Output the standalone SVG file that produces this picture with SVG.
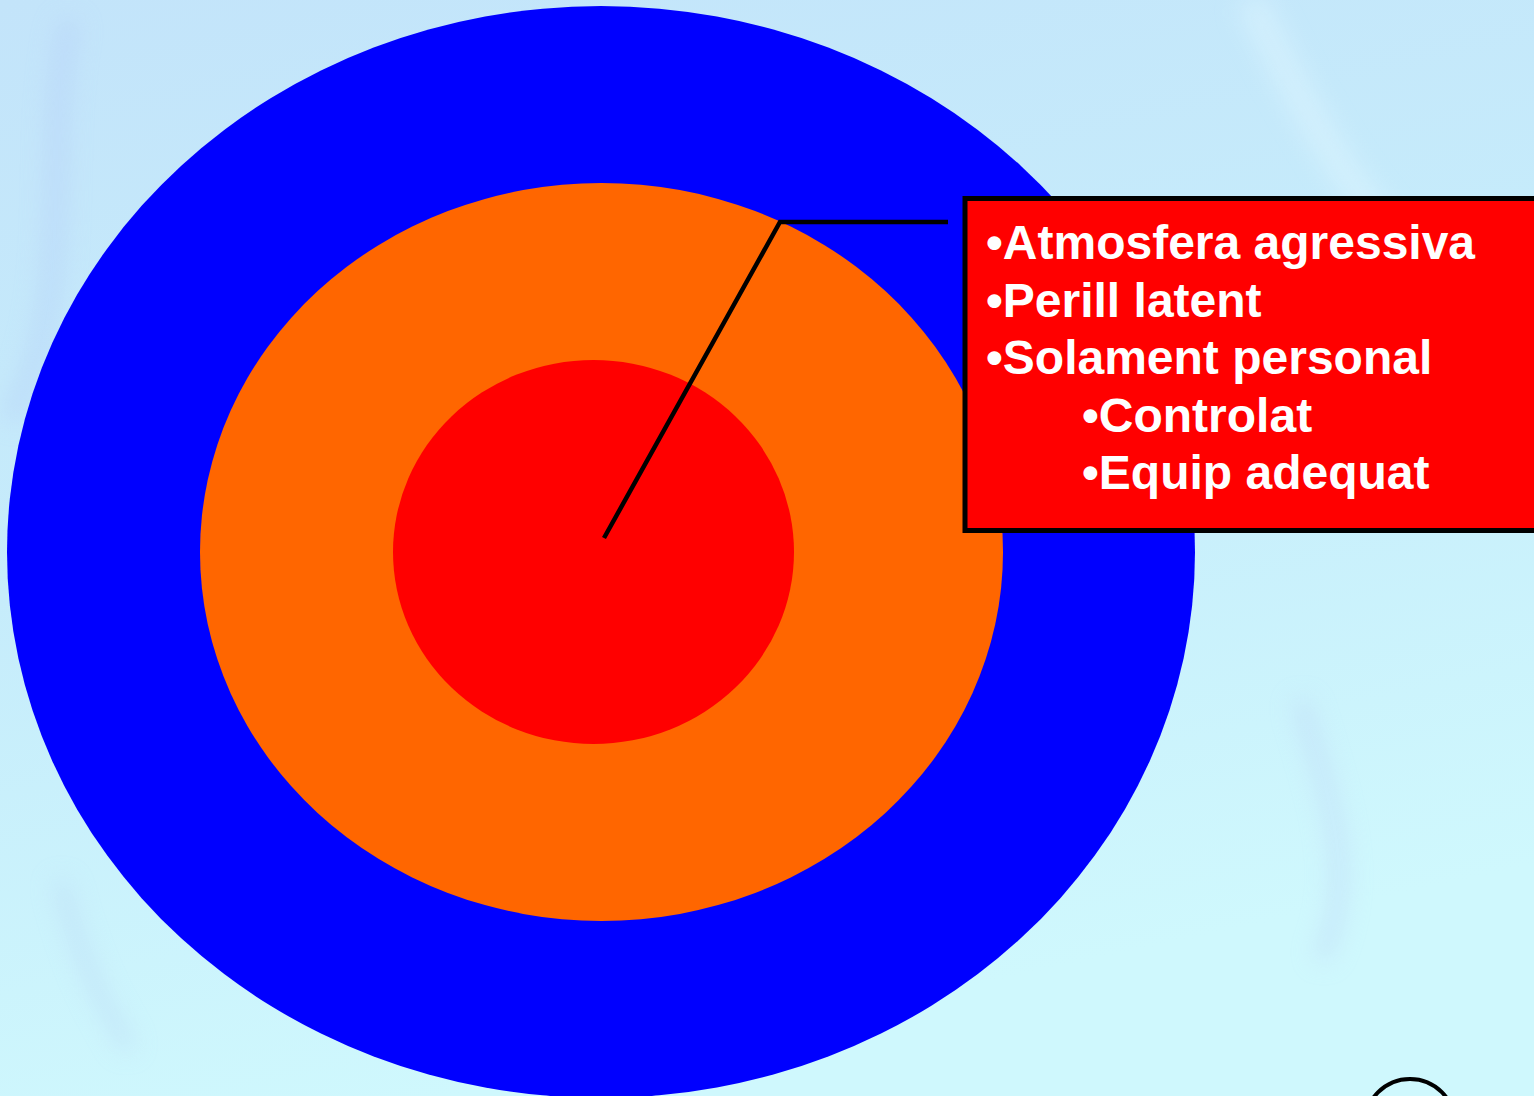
<svg xmlns="http://www.w3.org/2000/svg" width="1534" height="1096" viewBox="0 0 1534 1096">
  <defs>
    <linearGradient id="bg" x1="0" y1="0" x2="0.3" y2="1">
      <stop offset="0" stop-color="#c3e4fa"/>
      <stop offset="0.5" stop-color="#c6ecfb"/>
      <stop offset="1" stop-color="#cff8fd"/>
    </linearGradient>
    <filter id="blur" x="-50%" y="-50%" width="200%" height="200%">
      <feGaussianBlur stdDeviation="12"/>
    </filter>
    <style>
      .label { font-family: "Liberation Sans", Arial, sans-serif; font-weight: bold; font-size: 48px; fill: #ffffff; }
      .conn { fill: none; stroke: #000000; stroke-width: 4.5; }
    </style>
  </defs>
  <rect x="0" y="0" width="1534" height="1096" fill="url(#bg)"/>
  <g filter="url(#blur)" opacity="0.5">
    <path d="M70 20 C 40 150, 80 300, 10 420" stroke="#b4cff8" stroke-width="20" fill="none"/>
    <path d="M1250 0 C 1300 100, 1350 200, 1420 260" stroke="#dff6ff" stroke-width="30" fill="none"/>
    <path d="M1300 700 C 1330 800, 1360 880, 1320 960" stroke="#bcd4f6" stroke-width="16" fill="none"/>
    <path d="M60 880 C 80 960, 100 1000, 130 1050" stroke="#b8d4f4" stroke-width="14" fill="none"/>
  </g>
  <g id="ring-outer">
    <ellipse cx="601" cy="552" rx="594" ry="546" fill="#0000ff"/>
  </g>
  <g id="ring-middle">
    <ellipse cx="601.5" cy="552" rx="401.5" ry="369" fill="#ff6600"/>
  </g>
  <g id="ring-inner">
    <ellipse cx="593.5" cy="552" rx="200.5" ry="192" fill="#ff0000"/>
  </g>
  <g id="connectors">
    <polyline class="conn" points="604,538 780,222 948,222"/>
  </g>
  <g id="callout">
    <rect x="965" y="198.5" width="580" height="332" fill="#ff0000" stroke="#000000" stroke-width="5"/>
    <text class="label" x="986" y="259">•Atmosfera agressiva</text>
    <text class="label" x="986" y="317">•Perill latent</text>
    <text class="label" x="986" y="374">•Solament personal</text>
    <text class="label" x="1082" y="432">•Controlat</text>
    <text class="label" x="1082" y="489">•Equip adequat</text>
  </g>
  <g id="corner-shape">
    <circle cx="1410" cy="1124" r="45" fill="none" stroke="#000000" stroke-width="4"/>
  </g>
</svg>
